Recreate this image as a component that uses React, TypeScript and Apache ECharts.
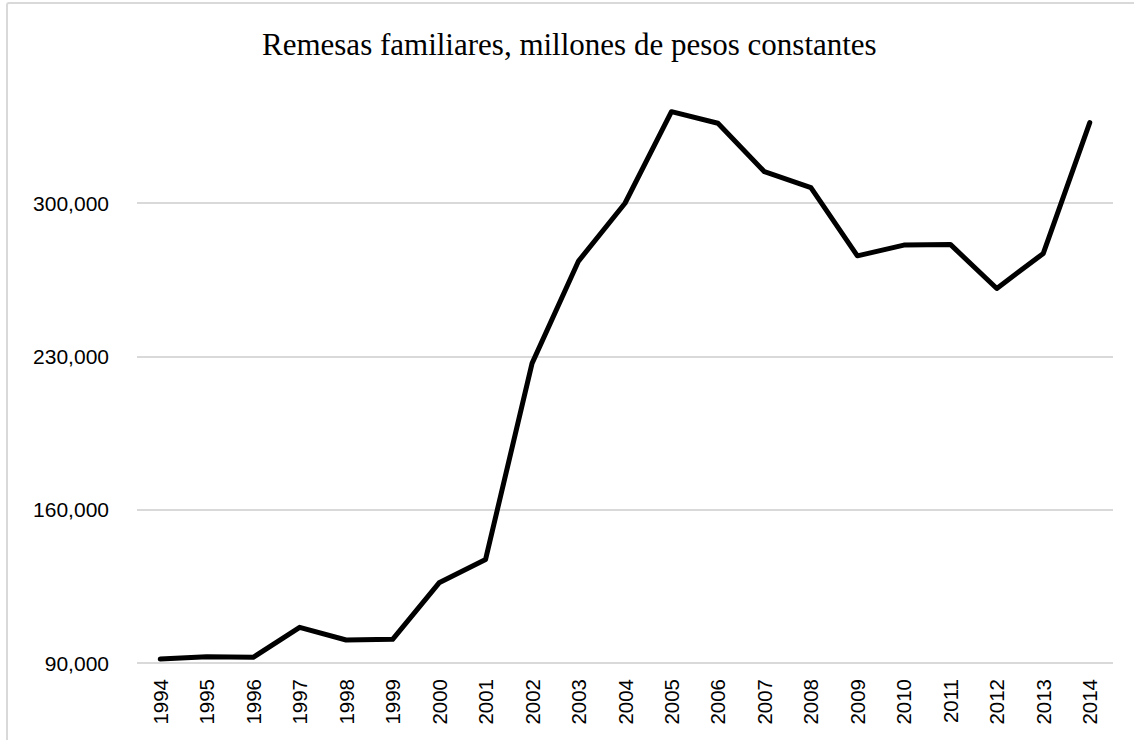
import React, { useEffect, useRef } from "react";
import * as echarts from "echarts";

const years = ["1994","1995","1996","1997","1998","1999","2000","2001","2002","2003","2004","2005","2006","2007","2008","2009","2010","2011","2012","2013","2014"];
const remesas = [91800, 92900, 92600, 106300, 100500, 100800, 126600, 137300, 226800, 273500, 299900, 341700, 336400, 314300, 307000, 275900, 280800, 281100, 261000, 277000, 336700];
const yMin = 90000;
const yMax = 370000;
const yStep = 70000;
const title = "Remesas familiares, millones de pesos constantes";

export default function App() {
  const ref = useRef<HTMLDivElement>(null);
  useEffect(() => {
    if (!ref.current) return;
    const chart = echarts.init(ref.current, null, { renderer: "svg" });
    chart.setOption({
      animation: false,
      backgroundColor: "#ffffff",
      title: {
        text: title,
        left: 257,
        top: 24,
        textStyle: { fontFamily: "Liberation Serif", fontSize: 31, fontWeight: "normal", color: "#000" },
      },
      grid: { left: 137, right: 21, top: 49.7, bottom: 77, containLabel: false },
      xAxis: {
        type: "category",
        data: years,
        boundaryGap: true,
        axisLine: { show: false },
        axisTick: { show: false },
        axisLabel: {
          interval: 0,
          rotate: 90,
          margin: 16,
          fontFamily: "Liberation Sans",
          fontSize: 20.5,
          color: "#000",
        },
      },
      yAxis: {
        type: "value",
        min: yMin,
        max: yMax,
        interval: yStep,
        axisLine: { show: false },
        axisTick: { show: false },
        axisLabel: {
          margin: 28,
          fontFamily: "Liberation Sans",
          fontSize: 21,
          color: "#000",
          showMaxLabel: false,
          formatter: (v: number) => (v >= yMax ? "" : v.toLocaleString("en-US")),
        },
        splitLine: {
          show: true,
          lineStyle: { color: ["#d9d9d9", "#d9d9d9", "#d9d9d9", "#d9d9d9", "rgba(0,0,0,0)"], width: 2 },
        },
      },
      series: [
        {
          type: "line",
          data: remesas,
          symbol: "none",
          lineStyle: { color: "#000", width: 5, join: "round", cap: "round" },
        },
      ],
    });
    return () => chart.dispose();
  }, []);
  return (
    <div style={{ position: "fixed", left: 0, top: 0, width: 1134, height: 740, overflow: "hidden", background: "#fff" }}>
      <div ref={ref} style={{ position: "absolute", left: 0, top: 0, width: 1134, height: 740 }} />
      <div
        style={{
          position: "absolute",
          left: 6,
          top: 2,
          width: 1300,
          height: 900,
          border: "2px solid #d9d9d9",
          borderRadius: 3,
          pointerEvents: "none",
          boxSizing: "border-box",
        }}
      />
    </div>
  );
}
